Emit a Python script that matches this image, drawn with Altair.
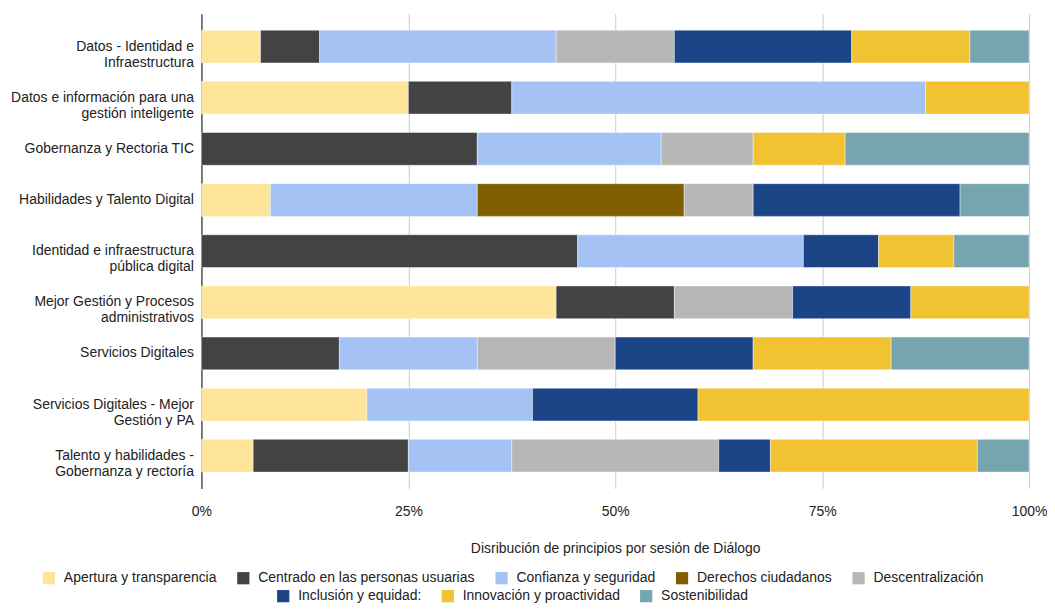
import altair as alt
import pandas as pd

categories = [
    "Datos - Identidad e|Infraestructura",
    "Datos e información para una|gestión inteligente",
    "Gobernanza y Rectoria TIC",
    "Habilidades y Talento Digital",
    "Identidad e infraestructura|pública digital",
    "Mejor Gestión y Procesos|administrativos",
    "Servicios Digitales",
    "Servicios Digitales - Mejor|Gestión y PA",
    "Talento y habilidades -|Gobernanza y rectoría",
]

series = [
    "Apertura y transparencia",
    "Centrado en las personas usuarias",
    "Confianza y seguridad",
    "Derechos ciudadanos",
    "Descentralización",
    "Inclusión y equidad:",
    "Innovación y proactividad",
    "Sostenibilidad",
]

colors = ["#FFE599", "#434343", "#A4C2F4", "#7F6000", "#B7B7B7", "#1C4587", "#F1C232", "#76A5AF"]

apertura = [1, 2, 0, 1, 0, 3, 0, 1, 1]
centrado = [1, 1, 3, 0, 5, 1, 1, 0, 3]
confianza = [4, 4, 2, 3, 3, 0, 1, 1, 2]
derechos = [0, 0, 0, 3, 0, 0, 0, 0, 0]
descentralizacion = [2, 0, 1, 1, 0, 1, 1, 0, 4]
inclusion = [3, 0, 0, 3, 1, 1, 1, 1, 1]
innovacion = [2, 1, 1, 0, 1, 1, 1, 2, 4]
sostenibilidad = [1, 0, 2, 1, 1, 0, 1, 0, 1]

values = [apertura, centrado, confianza, derechos, descentralizacion, inclusion, innovacion, sostenibilidad]

rows = []
for si, (s, vals) in enumerate(zip(series, values)):
    for ci, c in enumerate(categories):
        if vals[ci] > 0:
            rows.append({"sesion": c, "principio": s, "orden": si, "n": vals[ci]})
df = pd.DataFrame(rows)

FONT = "Liberation Sans"
FS = 14

bars = alt.Chart(df).mark_bar(stroke="white", strokeWidth=0.6, strokeOpacity=0.7).encode(
    y=alt.Y("sesion:N", sort=categories,
            scale=alt.Scale(paddingInner=0.36, paddingOuter=0.32),
            axis=alt.Axis(title=None, labelExpr="split(datum.value, '|')", labelFontSize=FS,
                          labelColor="#222222", labelPadding=8, ticks=False,
                          domainColor="#333333", domainWidth=1.2, labelFont=FONT,
                          labelLimit=300, labelLineHeight=16)),
    x=alt.X("sum(n):Q", stack="normalize", scale=alt.Scale(domain=[0, 1]),
            axis=alt.Axis(format=".0%", values=[0, 0.25, 0.5, 0.75, 1], title="Disribución de principios por sesión de Diálogo",
                          titleFontSize=FS, titleFontWeight="normal", titleColor="#222222", titleFont=FONT,
                          titlePadding=23, labelFontSize=FS, labelColor="#222222", labelFont=FONT,
                          labelPadding=16, ticks=False, domain=False, gridColor="#CCCCCC",
                          labelFlush=False)),
    color=alt.Color("principio:N", scale=alt.Scale(domain=series, range=colors),
                    legend=alt.Legend(title=None, values=series[:5], orient="none", direction="horizontal",
                                      legendX=-160, legendY=559, symbolType="square", symbolSize=150,
                                      symbolStrokeWidth=0, labelFontSize=FS, labelFont=FONT,
                                      labelColor="#222222", columnPadding=19, labelOffset=8,
                                      labelLimit=400, symbolOpacity=1)),
    order=alt.Order("orden:Q", sort="ascending"),
)

legend2 = alt.Chart(df[df["orden"] >= 5]).mark_square(opacity=0, size=0).encode(
    x=alt.value(0),
    y=alt.value(0),
    fill=alt.Fill("principio:N", scale=alt.Scale(domain=series[5:], range=colors[5:]),
                  legend=alt.Legend(title=None, orient="none", direction="horizontal",
                                    legendX=75, legendY=577, symbolType="square", symbolSize=150,
                                    symbolStrokeWidth=0, labelFontSize=FS, labelFont=FONT,
                                    labelColor="#222222", columnPadding=19, labelOffset=8,
                                    labelLimit=400, symbolOpacity=1)),
)

chart = alt.layer(bars, legend2).resolve_scale(color="independent", fill="independent").properties(
    width=830, height=476, background="white",
    padding={"left": 2, "top": 5, "right": 0, "bottom": 0},
).configure_view(stroke=None)

chart.save("out.html", embed_options={"renderer": "svg", "actions": False})
